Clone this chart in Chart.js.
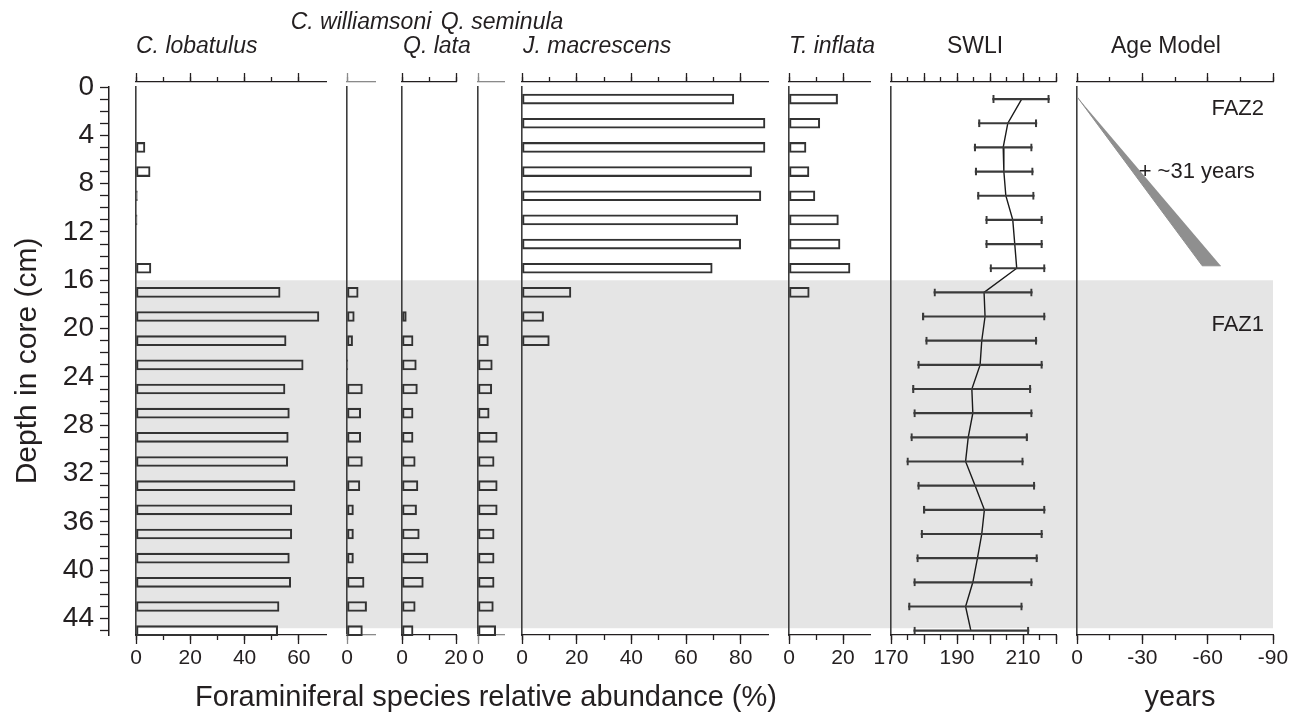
<!DOCTYPE html>
<html>
<head>
<meta charset="utf-8">
<title>Foraminifera core diagram</title>
<script src="https://cdn.jsdelivr.net/npm/chart.js@4.4.1/dist/chart.umd.min.js"></script>
<style>
    html, body { margin: 0; padding: 0; background: #fff; }
    #wrap { position: relative; width: 1298px; height: 715px; overflow: hidden; }
    #charts canvas { position: absolute; left: 0; top: 0; }
    .lbl { position: absolute; white-space: nowrap; color: #231f20; font-family: "Liberation Sans", Arial, Helvetica, sans-serif; font-size: 23px; line-height: 23px; }
    .it { font-style: italic; }
    .c { transform: translateX(-50%); }
    .big { font-size: 29px; line-height: 29px; }
</style>
</head>
<body>
<div id="wrap">
    <div id="charts"></div>
    <div class="lbl it" style="left:136px;top:34px">C. lobatulus</div>
    <div class="lbl it c" style="left:361px;top:10px">C. williamsoni</div>
    <div class="lbl it" style="left:403px;top:34px">Q. lata</div>
    <div class="lbl it c" style="left:502px;top:10px">Q. seminula</div>
    <div class="lbl it" style="left:523px;top:34px">J. macrescens</div>
    <div class="lbl it" style="left:789px;top:34px">T. inflata</div>
    <div class="lbl c" style="left:975px;top:34px">SWLI</div>
    <div class="lbl c" style="left:1166px;top:34px">Age Model</div>
    <div class="lbl big c" style="left:486px;top:682px">Foraminiferal species relative abundance (%)</div>
    <div class="lbl big c" style="left:1180px;top:682px">years</div>
</div>
<script>
// sample mid-depths (cm)
const depths = [1, 3, 5, 7, 9, 11, 13, 15, 17, 19, 21, 23, 25, 27, 29, 31, 33, 35, 37, 39, 41, 43, 45];

// relative abundance (%)
const cLobatulus = [0, 0, 3.3, 5.2, 0.5, 0.4, 0, 5.5, 53.1, 67.4, 55.3, 61.6, 54.9, 56.5, 56.1, 55.9, 58.6, 57.4, 57.4, 56.5, 57.0, 52.7, 52.2];
const cWilliamsoni = [0, 0, 0, 0, 0, 0, 0, 0, 4.0, 2.6, 2.0, 0.3, 5.5, 4.9, 4.9, 5.5, 4.6, 2.3, 2.3, 2.3, 6.1, 7.0, 5.5];
const qLata = [0, 0, 0, 0, 0, 0, 0, 0, 0, 1.6, 4.1, 5.3, 5.7, 4.1, 4.1, 4.9, 5.9, 5.4, 6.4, 9.6, 7.9, 4.9, 4.1];
const qSeminula = [0, 0, 0, 0, 0, 0, 0, 0, 0, 0, 4.0, 5.5, 5.3, 4.3, 7.4, 6.2, 7.4, 7.4, 6.2, 6.2, 6.2, 5.9, 6.8];
const jMacrescens = [77.5, 88.9, 88.9, 84.0, 87.4, 78.9, 80.0, 69.6, 17.9, 7.9, 10.0, 0, 0, 0, 0, 0, 0, 0, 0, 0, 0, 0, 0];
const tInflata = [18.0, 11.4, 6.3, 7.4, 9.6, 18.3, 18.9, 22.6, 7.5, 0, 0, 0, 0, 0, 0, 0, 0, 0, 0, 0, 0, 0, 0];

// SWLI reconstruction with error range
const swli = [209.6, 205.4, 204.0, 204.2, 204.8, 206.9, 207.5, 208.1, 198.2, 198.5, 197.5, 197.0, 194.5, 194.8, 193.4, 192.6, 195.5, 198.3, 197.5, 196.2, 194.8, 192.6, 194.2];
const swliLow = [200.8, 196.5, 195.2, 195.5, 196.2, 198.7, 198.7, 200.0, 183.0, 179.5, 180.5, 178.1, 176.5, 176.9, 176.0, 174.8, 178.1, 179.8, 179.1, 177.8, 176.9, 175.3, 176.9];
const swliHigh = [218.0, 214.2, 212.8, 213.1, 213.4, 215.9, 215.9, 216.7, 212.8, 216.7, 214.2, 215.9, 212.4, 212.8, 211.4, 210.1, 213.6, 216.7, 215.9, 214.4, 212.8, 209.8, 211.8];

// faunal zones
const zoneNames = ['FAZ2', 'FAZ1'];
const zoneTop = [0, 16];
const zoneBottom = [16, 44.8];
const zoneLabelDepth = [1.8, 19.7];

// age model wedge (years vs depth)
const ageDepth = [0.8, 14.8, 14.8];
const ageYears = [0, -57.5, -66];
const ageNote = '+ ~31 years';
const ageNoteYears = -28.3;
const ageNoteDepth = 7;

const W = 1298, H = 715;
const PLOT_TOP = 87, PLOT_BOTTOM = 635, AXIS_TOP = 82, LABEL_H = 45;
const DEPTH_MAX = 45.36;
const INK = '#231f20';
const FONT = '"Liberation Sans", Arial, Helvetica, sans-serif';

Chart.defaults.font.family = FONT;
Chart.defaults.color = INK;
Chart.defaults.animation = false;
Chart.defaults.plugins.legend.display = false;
Chart.defaults.plugins.tooltip.enabled = false;

const holder = document.getElementById('charts');
function newCanvas() {
    const c = document.createElement('canvas');
    c.width = W;
    c.height = H;
    holder.appendChild(c);
    return c.getContext('2d');
}

// Depth axis + FAZ1 shading
const zoneBand = {
    id: 'zoneBand',
    beforeDraw(chart) {
        const { ctx, scales: { y } } = chart;
        const i = zoneNames.indexOf('FAZ1');
        const top = y.getPixelForValue(zoneTop[i]);
        const bottom = y.getPixelForValue(zoneBottom[i]);
        ctx.save();
        ctx.fillStyle = '#e5e5e5';
        ctx.fillRect(136, top, 1273 - 136, bottom - top);
        ctx.restore();
    }
};

new Chart(newCanvas(), {
    type: 'scatter',
    data: { datasets: [] },
    options: {
        responsive: false,
        layout: { padding: { left: 0, right: 0, top: PLOT_TOP, bottom: H - PLOT_BOTTOM } },
        scales: {
            x: { type: 'linear', display: false },
            y: {
                type: 'linear',
                position: 'left',
                min: 0,
                max: DEPTH_MAX,
                reverse: true,
                ticks: {
                    stepSize: 1,
                    includeBounds: false,
                    autoSkip: false,
                    padding: 6,
                    font: { size: 28 },
                    callback: v => (v % 4 === 0 ? v : '')
                },
                grid: { drawOnChartArea: false, tickLength: 9, color: INK, tickWidth: 1.3 },
                border: { display: true, color: INK, width: 1.5 },
                title: { display: true, text: 'Depth in core (cm)', font: { size: 30 }, padding: { top: 10, bottom: 0 } },
                afterFit: s => { s.width = 109; }
            }
        }
    },
    plugins: [zoneBand]
});

// shared axis set for every panel
function panelScales(p) {
    const color = p.color || INK;
    const keep = v => v >= p.min - 1e-9 && v <= p.lastTick + 1e-9;
    const tickAxis = (position, weight, step, len, boxSize, extra) => ({
        type: 'linear',
        position: position,
        weight: weight,
        min: p.min,
        max: p.max,
        reverse: !!p.reverse,
        ticks: Object.assign({ stepSize: step, includeBounds: false, display: false, autoSkip: false, maxRotation: 0, minRotation: 0 }, extra.ticks || {}),
        grid: { drawOnChartArea: false, tickLength: len, color: color, tickWidth: 1.3 },
        border: { display: !!extra.border, color: color, width: 1.3 },
        afterBuildTicks: s => { s.ticks = s.ticks.filter(t => keep(t.value)); },
        afterFit: s => { s.height = boxSize; }
    });
    return {
        y: {
            type: 'linear', position: 'left', min: 0, max: DEPTH_MAX, reverse: true, offset: false,
            ticks: { display: false }, grid: { display: false },
            border: { display: true, color: '#3d3d3d', width: 1.6 },
            afterFit: s => { s.width = 0; }
        },
        x: tickAxis('top', 2, p.major, 9, 0, { border: true }),
        xTopMinor: tickAxis('top', 1, p.minor, 5, 0, {}),
        xGap: {
            type: 'linear', position: 'top', weight: 0,
            ticks: { display: false }, grid: { display: false }, border: { display: false },
            afterFit: s => { s.height = PLOT_TOP - AXIS_TOP; }
        },
        xBottomMinor: tickAxis('bottom', 0, p.minor, 5, 0, {}),
        xBottom: tickAxis('bottom', 1, p.major, 9, LABEL_H, {
            border: true,
            ticks: { display: true, padding: 2, font: { size: 21 }, color: INK, callback: p.label || (v => v) }
        })
    };
}

function panelLayout(p) {
    return { padding: { left: p.left, right: W - p.right, top: AXIS_TOP, bottom: H - PLOT_BOTTOM - LABEL_H } };
}

// species panels
const panels = [
    { values: cLobatulus, left: 136, right: 326, min: 0, max: 70, major: 20, minor: 10, lastTick: 60 },
    { values: cWilliamsoni, left: 347, right: 375, min: 0, max: 10, major: 20, minor: 10, lastTick: 0, color: '#8a8a8a' },
    { values: qLata, left: 402, right: 456, min: 0, max: 20, major: 20, minor: 10, lastTick: 20 },
    { values: qSeminula, left: 478, right: 504, min: 0, max: 10, major: 20, minor: 10, lastTick: 0, color: '#8a8a8a' },
    { values: jMacrescens, left: 522, right: 768, min: 0, max: 90, major: 20, minor: 10, lastTick: 80 },
    { values: tInflata, left: 789, right: 870, min: 0, max: 30, major: 20, minor: 10, lastTick: 20 }
];

panels.forEach(p => {
    new Chart(newCanvas(), {
        type: 'bar',
        data: {
            datasets: [{
                data: depths.map((d, i) => ({ x: p.values[i], y: d })),
                xAxisID: 'x',
                yAxisID: 'y',
                barThickness: 10,
                backgroundColor: 'rgba(0,0,0,0)',
                borderColor: '#333333',
                borderWidth: 1.4,
                borderSkipped: false,
                clip: false
            }]
        },
        options: {
            responsive: false,
            indexAxis: 'y',
            layout: panelLayout(p),
            scales: panelScales(p)
        }
    });
});

// SWLI panel
const swliPanel = {
    left: 891, right: 1056, min: 170, max: 220, major: 10, minor: 5, lastTick: 220,
    label: v => ((v - 170) % 20 === 0 ? v : '')
};
const swliRanges = depths.map((d, i) => ({ x: [swliLow[i], swliHigh[i]], y: d }));

new Chart(newCanvas(), {
    type: 'bar',
    data: {
        datasets: [{
            data: swliRanges,
            xAxisID: 'x',
            grouped: false,
            barThickness: 1.5,
            backgroundColor: '#3a3a3a',
            borderWidth: 0
        }, {
            data: swliRanges,
            xAxisID: 'x',
            grouped: false,
            barThickness: 8,
            backgroundColor: 'rgba(0,0,0,0)',
            borderColor: '#3a3a3a',
            borderWidth: { left: 1.5, right: 1.5, top: 0, bottom: 0 },
            borderSkipped: false
        }, {
            type: 'line',
            indexAxis: 'y',
            xAxisID: 'x',
            data: depths.map((d, i) => ({ x: swli[i], y: d })),
            borderColor: '#1a1a1a',
            borderWidth: 1.4,
            pointRadius: 0,
            tension: 0,
            fill: false
        }]
    },
    options: {
        responsive: false,
        indexAxis: 'y',
        layout: panelLayout(swliPanel),
        scales: panelScales(swliPanel)
    }
});

// Age model panel
const agePanel = { left: 1077, right: 1273, min: -90, max: 0, reverse: true, major: 30, minor: 15, lastTick: 0 };

const ageLabels = {
    id: 'ageLabels',
    afterDatasetsDraw(chart) {
        const { ctx, chartArea, scales: { x, y } } = chart;
        ctx.save();
        ctx.fillStyle = INK;
        ctx.font = '22px ' + FONT;
        ctx.textBaseline = 'middle';
        ctx.textAlign = 'right';
        zoneNames.forEach((n, i) => ctx.fillText(n, chartArea.right - 9, y.getPixelForValue(zoneLabelDepth[i])));
        ctx.textAlign = 'left';
        ctx.fillText(ageNote, x.getPixelForValue(ageNoteYears), y.getPixelForValue(ageNoteDepth));
        ctx.restore();
    }
};

new Chart(newCanvas(), {
    type: 'scatter',
    data: {
        datasets: [{
            data: ageYears.map((v, i) => ({ x: v, y: ageDepth[i] })),
            xAxisID: 'x',
            showLine: true,
            fill: 'shape',
            backgroundColor: '#8f8f8f',
            borderColor: '#8f8f8f',
            borderWidth: 1,
            pointRadius: 0
        }]
    },
    options: {
        responsive: false,
        layout: panelLayout(agePanel),
        scales: panelScales(agePanel)
    },
    plugins: [ageLabels]
});
</script>
</body>
</html>
